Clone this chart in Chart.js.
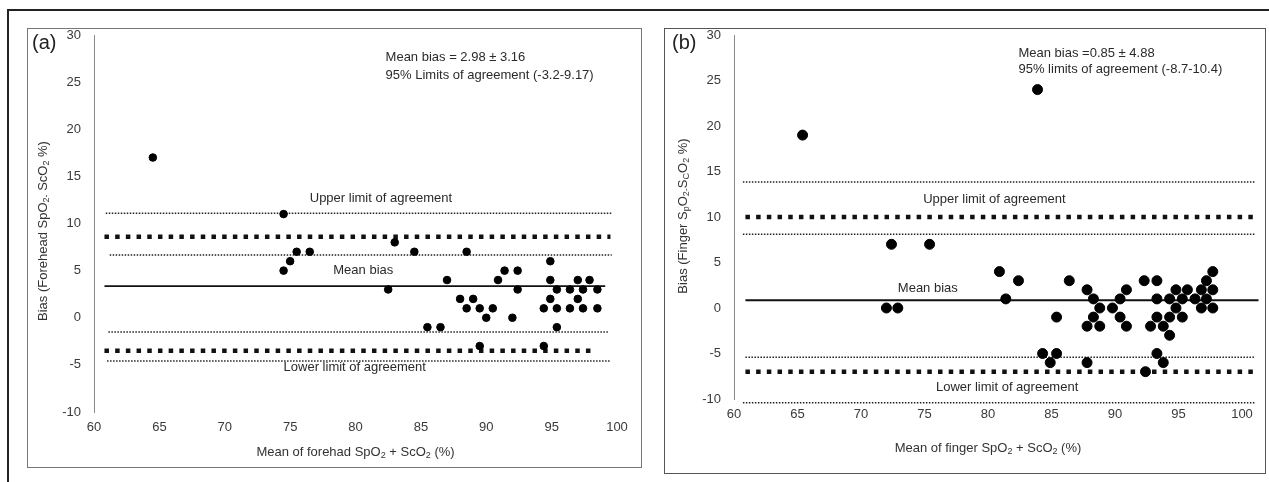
<!DOCTYPE html>
<html><head><meta charset="utf-8">
<script src="https://cdn.jsdelivr.net/npm/chart.js@4.4.1/dist/chart.umd.min.js"></script>
<style>
html,body{margin:0;padding:0;background:#fff;width:1269px;height:482px;overflow:hidden;position:relative}
#frame{position:absolute;left:7px;top:9px;width:1262px;height:473px;border-top:2px solid #222;border-left:2px solid #222;box-sizing:border-box}
.box{position:absolute;border:1px solid #777;box-sizing:border-box}
canvas{position:absolute}
</style></head><body>
<div id="frame"></div>
<div class="box" style="left:27px;top:28px;width:615px;height:440px"></div>
<div class="box" style="left:664px;top:28px;width:602px;height:446px;border-color:#555"></div>
<canvas id="ca" width="614" height="439" style="left:27px;top:28px"></canvas>
<canvas id="cb" width="601" height="445" style="left:664px;top:28px"></canvas>
<script>
const FONT = '"Liberation Sans", Arial, sans-serif';

// ---------- Panel (a): forehead ----------
const foreheadMean = [64.5,74.5,74.5,75.0,75.5,76.5,83.0,82.5,84.5,88.5,87.0,85.5,86.5,88.0,89.0,88.5,89.5,90.5,90.0,92.0,90.9,91.4,92.4,92.4,89.5,94.4,94.9,94.9,95.4,94.9,94.4,95.4,95.4,96.4,96.4,97.0,97.0,97.4,97.4,97.9,98.5,98.5];
const foreheadBias = [17,11,5,6,7,7,8,3,7,7,4,-1,-1,2,2,1,1,1,0,0,4,5,5,3,-3,-3,6,4,3,2,1,1,-1,3,1,4,2,3,1,4,3,1];
// reference lines: level, x start, x end, style
const foreheadLineLevel = [11.1, 8.6, 6.66, 3.35, -1.5, -3.5, -4.6];
const foreheadLineStart = [60.9, 60.8, 61.2, 60.8, 61.1, 60.8, 61.0];
const foreheadLineEnd   = [99.6, 99.5, 99.6, 99.1, 99.3, 98.3, 99.5];
const foreheadLineKind  = ['fine','thick','fine','mean','fine','thick','fine'];
const foreheadNotes = ['Mean bias = 2.98 \u00b1 3.16','95% Limits of agreement (-3.2-9.17)','Upper limit of agreement','Mean bias','Lower limit of agreement'];
const foreheadNoteX = [82.3, 82.3, 76.5, 78.3, 74.5];
const foreheadNoteY = [27.6, 25.7, 12.7, 5.0, -5.3];

// ---------- Panel (b): finger ----------
const fingerMean = [65.4,72.4,75.4,72.0,72.9,83.9,80.9,82.4,81.4,85.4,86.4,84.3,85.4,84.9,87.8,88.3,88.8,88.3,87.8,88.8,87.8,89.8,90.4,90.9,90.4,90.9,92.3,93.3,93.3,93.3,92.8,93.8,94.3,94.3,94.3,94.8,94.8,95.3,95.3,95.7,96.3,96.8,96.8,97.2,97.2,97.7,97.7,97.7,93.3,93.8,92.4];
const fingerBias = [19,7,7,0,0,24,4,3,1,-1,3,-5,-5,-6,2,1,0,-1,-2,-2,-6,0,1,2,-1,-2,3,3,1,-1,-2,-2,-1,-3,1,0,2,-1,1,2,1,2,0,3,1,4,2,0,-5,-6,-7];
const fingerLineLevel = [13.85, 10.0, 8.1, 0.85, -5.4, -7.0, -10.4];
const fingerLineStart = [60.7, 60.9, 60.7, 60.9, 60.9, 60.9, 60.7];
const fingerLineEnd   = [101.0, 100.9, 101.0, 101.3, 101.0, 100.9, 101.0];
const fingerLineKind  = ['fine','thick','fine','mean','fine','thick','fine'];
const fingerNotes = ['Mean bias =0.85 \u00b1 4.88','95% limits of agreement (-8.7-10.4)','Upper limit of agreement','Mean bias','Lower limit of agreement'];
const fingerNoteX = [82.4, 82.4, 74.9, 72.9, 75.9];
const fingerNoteY = [28.0, 26.2, 11.9, 2.2, -8.7];

const xTicksMin = 60, xTicksMax = 100, xStep = 5;
const yTicksMin = -10, yTicksMax = 30, yStep = 5;

const LINE_STYLE = {
  fine:  {borderWidth:1.5, borderDash:[1.5,1.5], borderColor:'#222'},
  thick: {borderWidth:4.5, borderDash:[4.5,6.2], borderColor:'#111'},
  mean:  {borderWidth:1.8, borderDash:[], borderColor:'#111'}
};

function drawRich(ctx,str,x,y,align,size,color){
  const parts=[];const re=/_\{([^}]*)\}/g;let last=0,m;
  while((m=re.exec(str))){ if(m.index>last)parts.push({t:str.slice(last,m.index),s:false}); parts.push({t:m[1],s:true}); last=re.lastIndex; }
  if(last<str.length)parts.push({t:str.slice(last),s:false});
  const f=s=>`${s?Math.round(size*0.72):size}px ${FONT}`;
  let w=0; parts.forEach(p=>{ctx.font=f(p.s);p.w=ctx.measureText(p.t).width;w+=p.w;});
  let cx = align==='center' ? x-w/2 : x;
  ctx.fillStyle=color; ctx.textBaseline='middle'; ctx.textAlign='left';
  parts.forEach(p=>{ctx.font=f(p.s);ctx.fillText(p.t,cx,y+(p.s?size*0.3:0));cx+=p.w;});
}

const textPlugin = {
  id:'txt',
  afterDraw(chart,args,o){
    const {ctx,chartArea:a}=chart; const sx=chart.scales.x, sy=chart.scales.y;
    ctx.save();
    o.notes.forEach((t,i)=>drawRich(ctx,t,sx.getPixelForValue(o.noteX[i]),sy.getPixelForValue(o.noteY[i]),'left',13,'#2a2a2a'));
    drawRich(ctx,o.xTitle,(a.left+a.right)/2,a.bottom+o.xTitleGap,'center',13,'#333');
    drawRich(ctx,o.tag,a.left-62,a.top+8,'left',20,'#222');
    ctx.translate(a.left-o.yTitleGap,(a.top+a.bottom)/2+o.yTitleShift);
    ctx.rotate(-Math.PI/2);
    drawRich(ctx,o.yTitle,0,0,'center',13,'#333');
    ctx.restore();
  }
};

function build(canvasId, xs, ys, lvl, st, en, kind, radius, yW, xH, padR, txt){
  const datasets=[{
    data: xs.map((v,i)=>({x:v,y:ys[i]})),
    backgroundColor:'#000', borderColor:'#000', pointRadius:radius, pointHoverRadius:radius, showLine:false, clip:false
  }];
  lvl.forEach((v,i)=>{
    datasets.push(Object.assign({
      data:[{x:st[i],y:v},{x:en[i],y:v}], showLine:true, pointRadius:0, fill:false, borderCapStyle:'butt', clip:false
    }, LINE_STYLE[kind[i]]));
  });
  const tickFont={family:FONT,size:13};
  return new Chart(document.getElementById(canvasId),{
    type:'scatter',
    data:{datasets},
    options:{
      responsive:false, animation:false, devicePixelRatio:1,
      layout:{padding:{left:0,right:padR,top:7,bottom:0}},
      plugins:{legend:{display:false},tooltip:{enabled:false},txt:txt},
      scales:{
        x:{type:'linear',min:xTicksMin,max:xTicksMax,
           ticks:{stepSize:xStep,padding:8,color:'#3a3a3a',font:tickFont,maxRotation:0},
           grid:{display:false,drawTicks:false},border:{display:false},
           afterFit(s){s.height=xH;s.paddingLeft=0;s.paddingRight=0;}},
        y:{type:'linear',min:yTicksMin,max:yTicksMax,
           ticks:{stepSize:yStep,padding:13,color:'#3a3a3a',font:tickFont},
           grid:{display:false,drawTicks:false},border:{display:true,color:'#8a8a8a',width:1},
           afterFit(s){s.width=yW;s.paddingTop=0;s.paddingBottom=0;}}
      }
    },
    plugins:[textPlugin]
  });
}

build('ca', foreheadMean, foreheadBias, foreheadLineLevel, foreheadLineStart, foreheadLineEnd, foreheadLineKind, 3.8, 67, 55, 24, {
  notes:foreheadNotes, noteX:foreheadNoteX, noteY:foreheadNoteY,
  xTitle:'Mean of forehad SpO_{2} + ScO_{2} (%)', xTitleGap:40,
  yTitle:'Bias (Forehead SpO_{2-} ScO_{2} %)', yTitleGap:51, yTitleShift:7.5,
  tag:'(a)'
});
build('cb', fingerMean, fingerBias, fingerLineLevel, fingerLineStart, fingerLineEnd, fingerLineKind, 5, 70, 74, 23, {
  notes:fingerNotes, noteX:fingerNoteX, noteY:fingerNoteY,
  xTitle:'Mean of finger SpO_{2} + ScO_{2} (%)', xTitleGap:49,
  yTitle:'Bias (Finger S_{p}O_{2-}S_{C}O_{2} %)', yTitleGap:51, yTitleShift:-1,
  tag:'(b)'
});
</script>
</body></html>
